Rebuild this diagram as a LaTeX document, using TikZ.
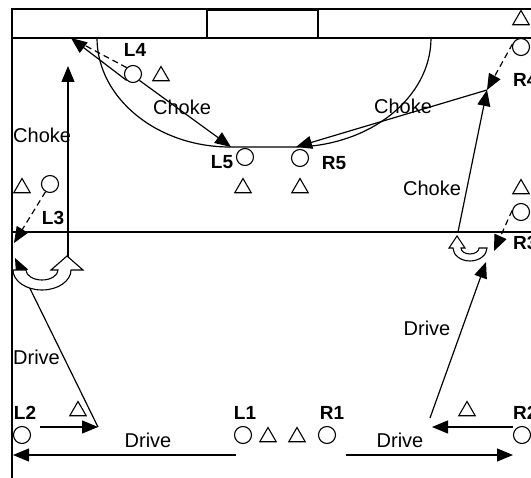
\documentclass[tikz,border=0pt]{standalone}
\usepackage{fontspec}
\setmainfont{Liberation Sans}
\usetikzlibrary{arrows.meta,shapes.geometric}
\tikzset{attacker/.style={shape=circle, draw, fill=white, inner sep=0pt, minimum size=17pt, line width=1.1pt},
defender/.style={shape=regular polygon, regular polygon sides=3, draw, inner sep=0pt, minimum size=19pt, line width=1.1pt},
tag/.style={font=\bfseries\fontsize{19}{22}\selectfont, inner sep=0pt},
call/.style={font=\fontsize{20}{24}\selectfont, inner sep=0pt},
run/.style={line width=1.2pt, -{Triangle[length=16pt,width=13pt]}},
pass/.style={run, dash pattern=on 6pt off 4pt},
curl/.style={line width=1.1pt, fill=white}}

\begin{document}
\begin{tikzpicture}[x=1pt,y=-1pt]
\useasboundingbox (0,0) rectangle (531,478);
% court
\draw[line width=1.5pt] (12,480) -- (12,9) -- (540,9);
\draw[line width=1.5pt] (12,38) -- (540,38);
\draw[line width=1.2pt] (12,232) -- (540,232);
\draw[line width=1.5pt] (207,38) -- (207,9) -- (318,9) -- (318,38);
\draw[line width=3pt] (207,10) -- (318,10);
\draw[line width=1.2pt] (97,38) .. controls (97,98) and (157,147) .. (230,147) -- (293,147) .. controls (369,147) and (431,98) .. (431,38);
% players
\node[attacker] (L4) at (133,74) {};
\node[attacker] (L5) at (245,157) {};
\node[attacker] (R5) at (300,158) {};
\node[attacker] (L3) at (50,184) {};
\node[attacker] (R4) at (521,47) {};
\node[attacker] (R3) at (521,212) {};
\node[attacker] (L2) at (22,435) {};
\node[attacker] (L1) at (243,435) {};
\node[attacker] (R1) at (327,435) {};
\node[attacker] (R2) at (522,435) {};
\node[defender] (dL4) at (161,76) {};
\node[defender] (dL5) at (243,188) {};
\node[defender] (dR5) at (300,188) {};
\node[defender] (dL3) at (22,188) {};
\node[defender] (dR4) at (521,20) {};
\node[defender] (dR3) at (521,189) {};
\node[defender] (dL2) at (78,411) {};
\node[defender] (dA) at (268,437) {};
\node[defender] (dB) at (297,437) {};
\node[defender] (dR2) at (467,411) {};
% spots
\coordinate (cutL4) at (71,38);
\coordinate (spotL5) at (231,147);
\coordinate (spotR4) at (487,90);
\coordinate (spotR5) at (296,147);
\coordinate (startR3) at (458,232);
\coordinate (spotR3) at (494,251);
\coordinate (curlR3) at (486,262);
\coordinate (turnR2) at (430,418);
\coordinate (spotR2) at (432,427);
\coordinate (startR2) at (513,427);
\coordinate (startR1) at (346,455);
\coordinate (endR1) at (513,455);
\coordinate (startL1) at (236,455);
\coordinate (endL1) at (13,455);
\coordinate (startL2) at (40,427);
\coordinate (spotL2) at (98,427);
\coordinate (curlL3) at (15,258);
\coordinate (spotL3) at (14,243);
\coordinate (headL3) at (68,257);
\coordinate (topL3) at (68,66);
% right curl
\draw[curl] (487,248) .. controls (487,255) and (479.4,261) .. (470,261) .. controls (460.6,261) and (453,255) .. (453,248) -- (449,248) -- (457,236) -- (465,248) -- (461,248) .. controls (461,251.3) and (465,254) .. (470,254) .. controls (475,254) and (479,251.3) .. (479,248) -- cycle;
% moves
\draw[run] (L4.south west) -- (cutL4);
\draw[pass,-,shorten >=12pt] (L4.north west) -- (cutL4);
\draw[run] (L4.south east) -- (spotL5);
\draw[pass] (R4.160) -- (spotR4);
\draw[run] (spotR4) -- (spotR5);
\draw[run] (startR3) -- (spotR4);
\draw[pass] (R3.170) -- (spotR3);
\draw[run] (turnR2) -- (curlR3);
\draw[run] (startR2) -- (spotR2);
\draw[run] (startR1) -- (endR1);
\draw[run] (startL1) -- (endL1);
\draw[run] (startL2) -- (spotL2);
\draw[run] (spotL2) -- (curlL3);
\draw[pass] (L3.240) -- (spotL3);
\draw[run] (headL3) -- (topL3);
% left curl
\draw[curl] (13,270) .. controls (13,281) and (26,290) .. (42,290) .. controls (58,290) and (71,281) .. (71,270) -- (83,270) -- (67,256) -- (51,270) -- (58,270) .. controls (58,275.5) and (50.8,280) .. (42,280) .. controls (33.2,280) and (26,275.5) .. (26,270) -- cycle;
% labels
\node[tag] (tL4) at (135,50) {L4};
\node[tag] (tL5) at (222,162) {L5};
\node[tag] (tR5) at (334,163) {R5};
\node[tag] (tL3) at (53,218) {L3};
\node[tag, anchor=west] (tR4) at (513,80) {R4};
\node[tag, anchor=west] (tR3) at (513,243) {R3};
\node[tag, anchor=west] (tR2) at (513,413) {R2};
\node[tag] (tL2) at (25,413) {L2};
\node[tag] (tL1) at (245,413) {L1};
\node[tag] (tR1) at (332,413) {R1};
\node[call] (cA) at (182,107) {Choke};
\node[call, anchor=west] (cB) at (13,135) {Choke};
\node[call] (cC) at (403,106) {Choke};
\node[call] (cD) at (432,188) {Choke};
\node[call, anchor=west] (dA) at (13,357) {Drive};
\node[call] (dB) at (148,440) {Drive};
\node[call] (dC) at (427,328) {Drive};
\node[call] (dD) at (400,440) {Drive};
\end{tikzpicture}
\end{document}
